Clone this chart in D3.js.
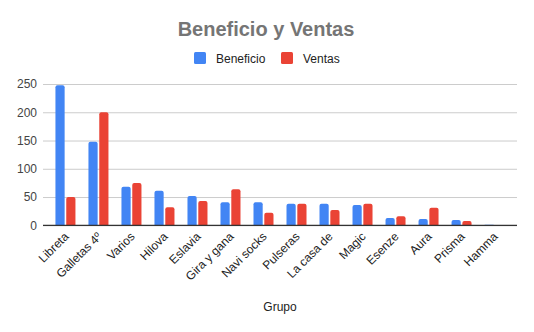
<!DOCTYPE html>
<html>
<head>
<meta charset="utf-8">
<script src="https://cdn.jsdelivr.net/npm/d3@7"></script>
<style>
  html, body { margin: 0; padding: 0; background: #fff; }
  svg { display: block; font-family: "Liberation Sans", Arial, sans-serif; }
</style>
</head>
<body>
<svg id="chart" width="534" height="332"></svg>
<script>
const categories = ["Libreta", "Galletas 4º", "Varios", "Hilova", "Eslavia", "Gira y gana",
  "Navi socks", "Pulseras", "La casa de", "Magic", "Esenze", "Aura", "Prisma", "Hamma"];
const beneficio = [248, 148, 68, 61, 52, 41, 41, 38, 38, 36, 13, 11, 9.5, 1];
const ventas    = [50, 200, 75, 32, 43, 64, 22, 38, 27, 38, 16, 31, 7.5, 0];
const seriesNames = ["Beneficio", "Ventas"];
const seriesColors = ["#4285F4", "#EA4335"];
const yTicks = [0, 50, 100, 150, 200, 250];

const svg = d3.select("#chart");
const plot = { left: 43, right: 517, top: 84, bottom: 225.3 };

const x0 = d3.scaleBand().domain(categories)
  .range([plot.left, plot.right]).paddingInner(0.394).paddingOuter(0.377);
const x1 = d3.scaleBand().domain(seriesNames)
  .range([0, x0.bandwidth()]).paddingInner(0.15);
const y = d3.scaleLinear().domain([0, 250]).range([plot.bottom, plot.top]);

// Title
svg.append("text").attr("x", 266).attr("y", 36).attr("text-anchor", "middle")
  .attr("font-size", 20).attr("font-weight", "bold").attr("fill", "#757575")
  .text("Beneficio y Ventas");

// Legend
const legendX = [194, 281];
seriesNames.forEach((name, i) => {
  const g = svg.append("g").attr("transform", `translate(${legendX[i]},52)`);
  g.append("rect").attr("width", 12).attr("height", 12).attr("rx", 1.5)
    .attr("fill", seriesColors[i]);
  g.append("text").attr("x", 22).attr("y", 10.5).attr("font-size", 12)
    .attr("fill", "#222").text(name);
});

// Gridlines and y labels
const yAxis = d3.axisLeft(y).tickValues(yTicks).tickSize(-(plot.right - plot.left)).tickPadding(6);
const ya = svg.append("g").attr("transform", `translate(${plot.left},0)`).call(yAxis);
ya.select(".domain").remove();
ya.selectAll(".tick line").attr("stroke", "#cccccc").attr("stroke-width", 1);
ya.selectAll(".tick text").attr("font-size", 12).attr("fill", "#444")
  .attr("font-family", "Liberation Sans, Arial, sans-serif").attr("x", -6);

// Bars with softly rounded tops
function barPath(x, w, yTop, yBase) {
  const h = yBase - yTop;
  if (h <= 0) return "";
  const r = Math.min(2, h / 2, w / 2);
  return `M${x},${yBase}V${yTop + r}Q${x},${yTop} ${x + r},${yTop}H${x + w - r}Q${x + w},${yTop} ${x + w},${yTop + r}V${yBase}Z`;
}
const rows = categories.map((c, i) => ({ cat: c, vals: [beneficio[i], ventas[i]] }));
const groups = svg.append("g").selectAll("g").data(rows).join("g")
  .attr("transform", d => `translate(${x0(d.cat)},0)`);
groups.selectAll("path").data(d => d.vals.map((v, i) => ({ v, s: seriesNames[i], i })))
  .join("path")
  .attr("d", d => barPath(x1(d.s), x1.bandwidth(), y(d.v), y(0)))
  .attr("fill", d => seriesColors[d.i]);

// Baseline
svg.append("line").attr("x1", plot.left).attr("x2", plot.right)
  .attr("y1", y(0)).attr("y2", y(0)).attr("stroke", "#333").attr("stroke-width", 1.3);

// X axis labels (rotated)
const xAxis = d3.axisBottom(x0).tickSize(0).tickPadding(0);
const xa = svg.append("g").attr("transform", `translate(0,${y(0)})`).call(xAxis);
xa.select(".domain").remove();
xa.selectAll(".tick text")
  .attr("font-size", 12).attr("fill", "#222")
  .attr("font-family", "Liberation Sans, Arial, sans-serif")
  .attr("text-anchor", "end").attr("dy", 0).attr("y", 0)
  .attr("transform", "translate(4,12) rotate(-45)");

// Axis title
svg.append("text").attr("x", (plot.left + plot.right) / 2).attr("y", 311)
  .attr("text-anchor", "middle").attr("font-size", 12).attr("fill", "#222").text("Grupo");
</script>
</body>
</html>
